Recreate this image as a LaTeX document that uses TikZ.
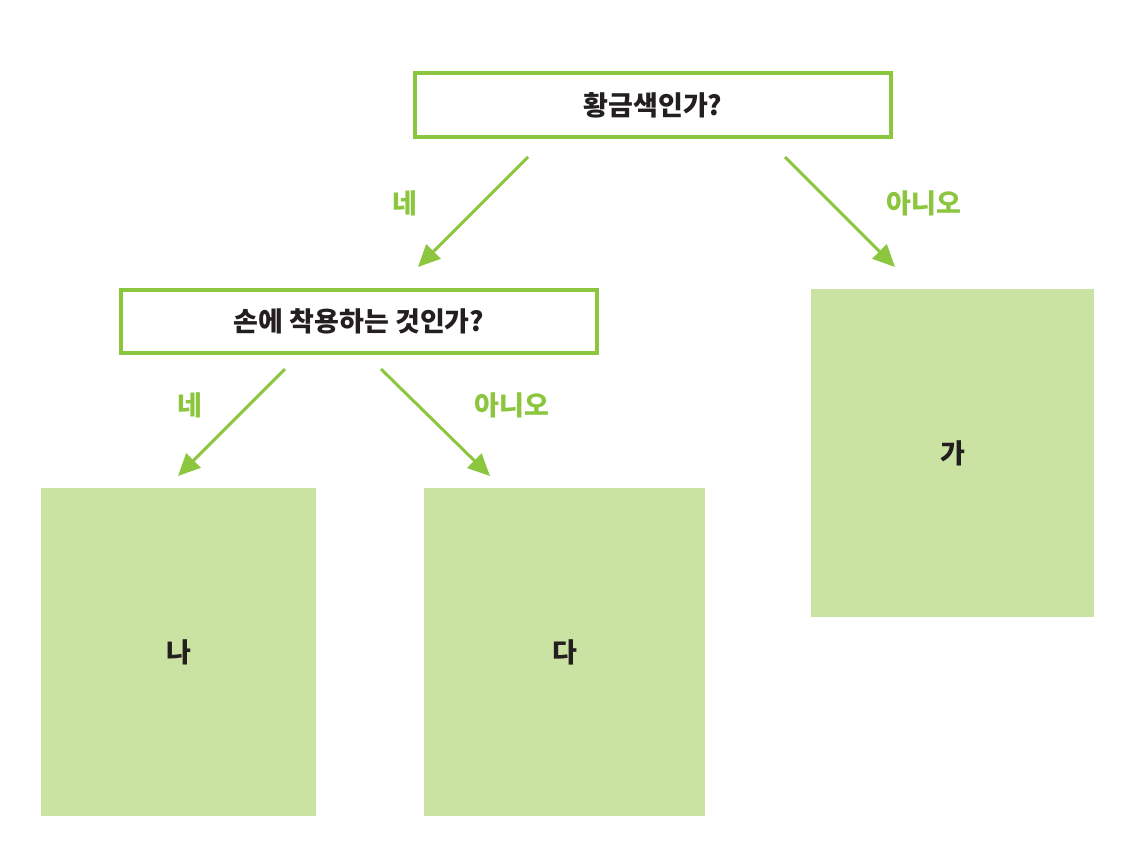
\documentclass[tikz,border=0pt]{standalone}
\usepackage{fontspec}
\setmainfont{Noto Sans CJK KR}
\usetikzlibrary{arrows.meta}
\definecolor{lgreen}{HTML}{8CC63F}
\definecolor{pgreen}{HTML}{CBE3A2}
\definecolor{tdark}{HTML}{231F20}
\tikzset{
  qbox/.style={draw=lgreen, line width=4pt, fill=white, inner sep=0pt, text=tdark, font=\fontsize{27}{31}\bfseries\selectfont},
  abox/.style={fill=pgreen, inner sep=0pt, text=tdark, font=\fontsize{27}{31}\bfseries\selectfont},
  lbl/.style={text=lgreen, font=\fontsize{27}{31}\bfseries\selectfont},
  arr/.style={draw=lgreen, line width=3pt, -{Triangle[length=22pt,width=20pt]}},
}
\begin{document}
\begin{tikzpicture}[x=1pt,y=-1pt]
\useasboundingbox (0,0) rectangle (1141,860);
\node[qbox, minimum width=476pt, minimum height=64pt] (q1) at (653,105) {황금색인가?};
\node[qbox, minimum width=476pt, minimum height=63pt] (q2) at (359,321.5) {손에 착용하는 것인가?};
\node[abox, minimum width=283pt, minimum height=328pt] (ga) at (952.5,453) {가};
\node[abox, minimum width=275pt, minimum height=328pt] (na) at (178.5,652) {나};
\node[abox, minimum width=281pt, minimum height=328pt] (da) at (564.5,652) {다};
\coordinate (s1) at (528,157);
\coordinate (e1) at (418,267);
\coordinate (s2) at (785,157);
\coordinate (e2) at (895,267);
\coordinate (s3) at (285,369);
\coordinate (e3) at (178,476);
\coordinate (s4) at (381,369);
\coordinate (e4) at (490,476);
\draw[arr] (s1) -- (e1);
\draw[arr] (s2) -- (e2);
\draw[arr] (s3) -- (e3);
\draw[arr] (s4) -- (e4);
\node[lbl] (l1) at (405,203) {네};
\node[lbl] (l2) at (924,203) {아니오};
\node[lbl] (l3) at (190,405) {네};
\node[lbl] (l4) at (512,405) {아니오};
\end{tikzpicture}
\end{document}
